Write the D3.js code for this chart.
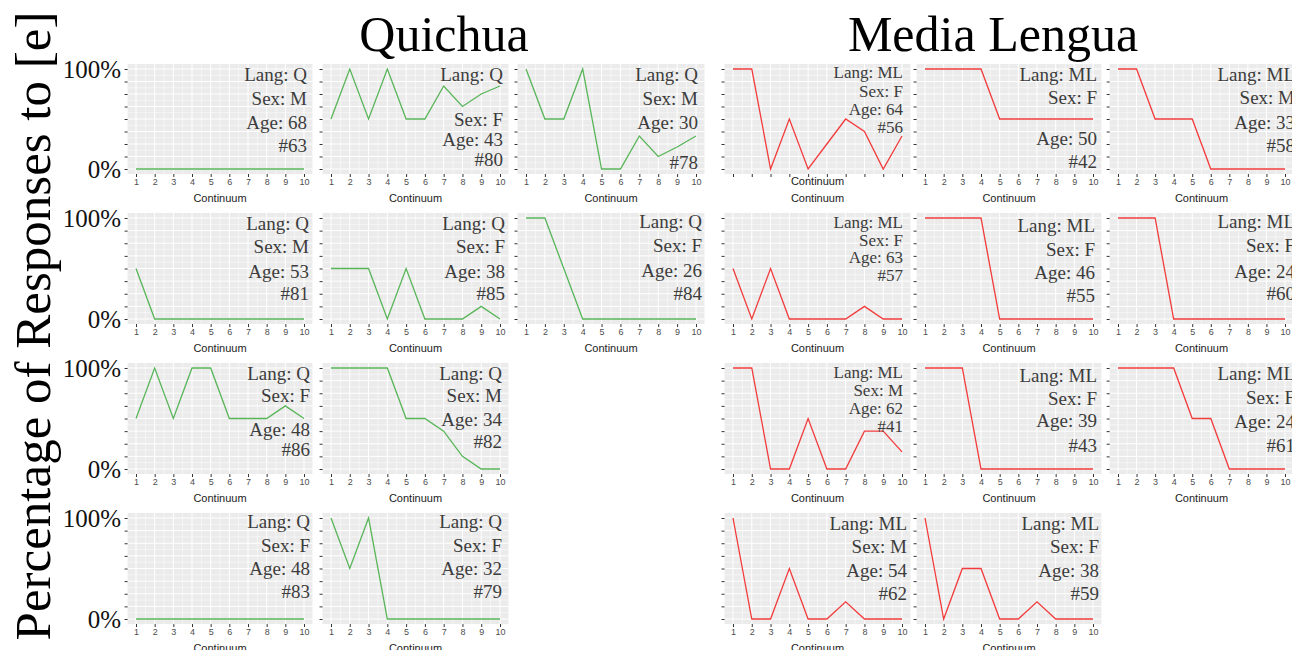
<!DOCTYPE html>
<html><head><meta charset="utf-8">
<script src="https://cdn.jsdelivr.net/npm/d3@7"></script>
<style>body{margin:0;background:#fff;} svg{display:block;}</style>
</head><body>
<script>
// ---------- DATA ----------
const continuum = [1, 2, 3, 4, 5, 6, 7, 8, 9, 10];
const yBreaks = [0, 12.5, 25, 37.5, 50, 62.5, 75, 87.5, 100];
const yTickLabels = [{v: 0, t: "0%"}, {v: 100, t: "100%"}];
const groupTitles = ["Quichua", "Media Lengua"];
const yTitle = "Percentage of Responses to [e]";

const speakerIds = ["#63","#80","#78","#81","#85","#84","#86","#82","#83","#79",
                    "#56","#42","#58","#57","#55","#60","#41","#43","#61","#62","#59"];
const speakerLang = ["Q","Q","Q","Q","Q","Q","Q","Q","Q","Q",
                     "ML","ML","ML","ML","ML","ML","ML","ML","ML","ML","ML"];
const speakerSex = ["M","F","M","M","F","F","F","M","F","F",
                    "F","F","M","F","F","F","M","F","F","M","F"];
const speakerAge = [68,43,30,53,38,26,48,34,48,32,
                    64,50,33,63,46,24,62,39,24,54,38];

// percentage of [e] responses along the 10-step continuum
const resp63 = [0, 0, 0, 0, 0, 0, 0, 0, 0, 0];
const resp80 = [50, 100, 50, 100, 50, 50, 83, 62.5, 75, 83];
const resp78 = [100, 50, 50, 100, 0, 0, 33, 12.5, 22, 33];
const resp81 = [50, 0, 0, 0, 0, 0, 0, 0, 0, 0];
const resp85 = [50, 50, 50, 0, 50, 0, 0, 0, 12.5, 0];
const resp84 = [100, 100, 50, 0, 0, 0, 0, 0, 0, 0];
const resp86 = [50, 100, 50, 100, 100, 50, 50, 50, 62.5, 50];
const resp82 = [100, 100, 100, 100, 50, 50, 37.5, 12.5, 0, 0];
const resp83 = [0, 0, 0, 0, 0, 0, 0, 0, 0, 0];
const resp79 = [100, 50, 100, 0, 0, 0, 0, 0, 0, 0];
const resp56 = [100, 100, 0, 50, 0, 25, 50, 37.5, 0, 33];
const resp42 = [100, 100, 100, 100, 50, 50, 50, 50, 50, 50];
const resp58 = [100, 100, 50, 50, 50, 0, 0, 0, 0, 0];
const resp57 = [50, 0, 50, 0, 0, 0, 0, 12.5, 0, 0];
const resp55 = [100, 100, 100, 100, 0, 0, 0, 0, 0, 0];
const resp60 = [100, 100, 100, 0, 0, 0, 0, 0, 0, 0];
const resp41 = [100, 100, 0, 0, 50, 0, 0, 37.5, 37.5, 17];
const resp43 = [100, 100, 100, 0, 0, 0, 0, 0, 0, 0];
const resp61 = [100, 100, 100, 100, 50, 50, 0, 0, 0, 0];
const resp62 = [100, 0, 0, 50, 0, 0, 17, 0, 0, 0];
const resp59 = [100, 0, 50, 50, 0, 0, 17, 0, 0, 0];

const responses = [resp63, resp80, resp78, resp81, resp85, resp84, resp86, resp82, resp83, resp79,
                   resp56, resp42, resp58, resp57, resp55, resp60, resp41, resp43, resp61, resp62, resp59];

// ---------- LAYOUT (composite figure placement) ----------
const colX1  = [136, 331, 526, 733, 925, 1118];
const colX10 = [304, 500, 696, 902, 1093, 1285];
const rowY100 = [69, 218, 368, 518];
const rowY0   = [169, 319, 469, 619];
// col, row, label baseline offsets (from 100% line), label right offset (from x=10), font size
const layout = [
  {c:0,r:0,ly:[12,36,60,83],dx:3}, {c:1,r:0,ly:[12,57,77,97],dx:3}, {c:2,r:0,ly:[12,36,60,100],dx:2},
  {c:0,r:1,ly:[12,35,60,82],dx:5}, {c:1,r:1,ly:[12,35,60,82],dx:5}, {c:2,r:1,ly:[10,34,59,82],dx:6},
  {c:0,r:2,ly:[12,34,68,88],dx:6}, {c:1,r:2,ly:[12,34,58,80],dx:2},
  {c:0,r:3,ly:[10,34,57,80],dx:6}, {c:1,r:3,ly:[10,34,57,80],dx:2},
  {c:3,r:0,ly:[9,28,46,64],dx:1,fs:17,noTickLabels:true,extraTitle:true}, {c:4,r:0,ly:[12,35,76,99],dx:4}, {c:5,r:0,ly:[12,35,60,83],dx:10},
  {c:3,r:1,ly:[10,28,45,63],dx:1,fs:17}, {c:4,r:1,ly:[14,38,61,84],dx:2}, {c:5,r:1,ly:[10,34,60,82],dx:10},
  {c:3,r:2,ly:[10,28,46,64],dx:1,fs:17}, {c:4,r:2,ly:[14,37,59,84],dx:4}, {c:5,r:2,ly:[12,36,60,84],dx:10},
  {c:3,r:3,ly:[12,35,59,82],dx:5}, {c:4,r:3,ly:[12,35,59,82],dx:6}
];

const colors = {Q: "#58b558", ML: "#f23b3b"};
const serif = "'Liberation Serif', 'DejaVu Serif', serif";
const sans = "'Liberation Sans', Arial, sans-serif";

const W = 1292, H = 650;
const svg = d3.select("body").append("svg").attr("width", W).attr("height", H);

speakerIds.forEach((id, i) => {
  const L = layout[i];
  const x = d3.scaleLinear().domain([1, 10]).range([colX1[L.c], colX10[L.c]]);
  const y = d3.scaleLinear().domain([0, 100]).range([rowY0[L.r], rowY100[L.r]]);
  const g = svg.append("g");
  const xl = x(0.55), xr = x(10.45), yt = y(105), yb = y(-5);

  g.append("rect").attr("x", xl).attr("y", yt).attr("width", xr - xl).attr("height", yb - yt).attr("fill", "#ebebeb");

  // minor grid
  const xMinor = continuum.slice(0, -1).map(v => v + 0.5);
  const yMinor = yBreaks.slice(0, -1).map(v => v + 6.25);
  g.selectAll(".xm").data(xMinor).join("line")
    .attr("x1", d => x(d)).attr("x2", d => x(d)).attr("y1", yt).attr("y2", yb)
    .attr("stroke", "#fff").attr("stroke-width", 0.5);
  g.selectAll(".ym").data(yMinor).join("line")
    .attr("x1", xl).attr("x2", xr).attr("y1", d => y(d)).attr("y2", d => y(d))
    .attr("stroke", "#fff").attr("stroke-width", 0.5);
  // major grid
  g.selectAll(".xM").data(continuum).join("line")
    .attr("x1", d => x(d)).attr("x2", d => x(d)).attr("y1", yt).attr("y2", yb)
    .attr("stroke", "#fff").attr("stroke-width", 1);
  g.selectAll(".yM").data(yBreaks).join("line")
    .attr("x1", xl).attr("x2", xr).attr("y1", d => y(d)).attr("y2", d => y(d))
    .attr("stroke", "#fff").attr("stroke-width", 1);

  // y axis ticks
  const ya = g.append("g").attr("transform", `translate(${xl},0)`)
    .call(d3.axisLeft(y).tickValues(yBreaks).tickFormat("").tickSize(3));
  ya.select(".domain").remove();
  ya.selectAll(".tick line").attr("stroke", "#333");

  // x axis
  const xa = g.append("g").attr("transform", `translate(0,${yb})`)
    .call(d3.axisBottom(x).tickValues(continuum).tickSize(3).tickPadding(2)
      .tickFormat(L.noTickLabels ? "" : d3.format("d")));
  xa.select(".domain").remove();
  xa.selectAll(".tick line").attr("stroke", "#333");
  xa.selectAll(".tick text").attr("fill", "#4d4d4d").style("font-family", sans).style("font-size", "9px");

  const cx = (x(1) + x(10)) / 2;
  g.append("text").attr("x", cx).attr("y", yb + 28).attr("text-anchor", "middle")
    .style("font-family", sans).style("font-size", "11px").attr("fill", "#222").text("Continuum");
  if (L.extraTitle) {
    g.append("text").attr("x", cx).attr("y", yb + 11).attr("text-anchor", "middle")
      .style("font-family", sans).style("font-size", "11px").attr("fill", "#222").text("Continuum");
  }

  // line
  const line = d3.line().x((d, k) => x(continuum[k])).y(d => y(d));
  g.append("path").attr("d", line(responses[i])).attr("fill", "none")
    .attr("stroke", colors[speakerLang[i]]).attr("stroke-width", 1.3);

  // annotation
  const lines = ["Lang: " + speakerLang[i], "Sex: " + speakerSex[i], "Age: " + speakerAge[i], id];
  g.selectAll(".ann").data(lines).join("text")
    .attr("x", x(10) + L.dx).attr("y", (d, k) => y(100) + L.ly[k])
    .attr("text-anchor", "end").style("font-family", serif).style("font-size", (L.fs || 19) + "px")
    .attr("fill", "#3c3c3c").text(d => d);

  // big y labels on first column
  if (L.c === 0) {
    g.selectAll(".yl").data(yTickLabels).join("text")
      .attr("x", 121).attr("y", d => y(d.v) + 9).attr("text-anchor", "end")
      .style("font-family", serif).style("font-size", "25px").attr("fill", "#111").text(d => d.t);
  }
});

// group titles
const titleX = [444, 993];
svg.selectAll(".gt").data(groupTitles).join("text")
  .attr("x", (d, i) => titleX[i]).attr("y", 51).attr("text-anchor", "middle")
  .style("font-family", serif).style("font-size", "50px").attr("fill", "#000").text(d => d);

// y title
svg.append("text").attr("transform", "translate(50,326) rotate(-90)").attr("text-anchor", "middle")
  .style("font-family", serif).style("font-size", "51px").attr("fill", "#000").text(yTitle);
</script>
</body></html>
